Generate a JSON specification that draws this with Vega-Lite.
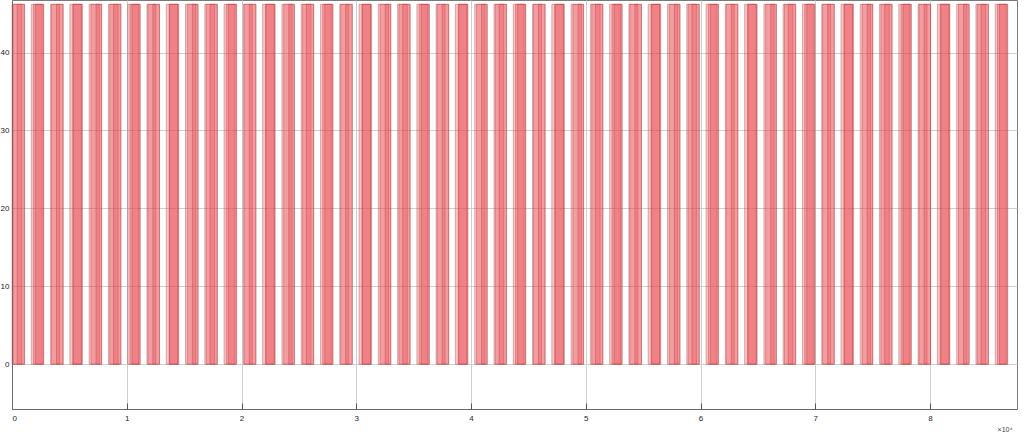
{
  "$schema": "https://vega.github.io/schema/vega-lite/v6.json",
  "width": 1005,
  "height": 409,
  "autosize": {"type": "none"},
  "padding": {"left": 12, "top": 0, "right": 7, "bottom": 26},
  "background": "white",
  "config": {
    "view": {"stroke": "#7a7a7a", "strokeWidth": 1},
    "axis": {"labelFont": "Liberation Sans", "titleFont": "Liberation Sans", "gridColor": "#cfcfcf", "gridWidth": 1, "domainColor": "#6a6a6a", "labelColor": "#262626", "labelFontSize": 8, "tickColor": "#555555", "tickWidth": 1}
  },
  "data": {"values": [
    {"start":0,"end":1100,"v":46.2},{"start":120,"end":850,"v":46.2},{"start":450,"end":1080,"v":46.2},
    {"start":1680,"end":2780,"v":46.2},{"start":1880,"end":2630,"v":46.2},{"start":2060,"end":2740,"v":46.2},
    {"start":3360,"end":4460,"v":46.2},{"start":3440,"end":4140,"v":46.2},{"start":3880,"end":4450,"v":46.2},
    {"start":5040,"end":6140,"v":46.2},{"start":5290,"end":6040,"v":46.2},{"start":5340,"end":6080,"v":46.2},
    {"start":6720,"end":7820,"v":46.2},{"start":6880,"end":7620,"v":46.2},{"start":7320,"end":7800,"v":46.2},
    {"start":8400,"end":9500,"v":46.2},{"start":8520,"end":9250,"v":46.2},{"start":8850,"end":9480,"v":46.2},
    {"start":10080,"end":11180,"v":46.2},{"start":10280,"end":11030,"v":46.2},{"start":10460,"end":11140,"v":46.2},
    {"start":11760,"end":12860,"v":46.2},{"start":11840,"end":12540,"v":46.2},{"start":12280,"end":12850,"v":46.2},
    {"start":13440,"end":14540,"v":46.2},{"start":13690,"end":14440,"v":46.2},{"start":13740,"end":14480,"v":46.2},
    {"start":15120,"end":16220,"v":46.2},{"start":15280,"end":16020,"v":46.2},{"start":15720,"end":16200,"v":46.2},
    {"start":16800,"end":17900,"v":46.2},{"start":16920,"end":17650,"v":46.2},{"start":17250,"end":17880,"v":46.2},
    {"start":18480,"end":19580,"v":46.2},{"start":18680,"end":19430,"v":46.2},{"start":18860,"end":19540,"v":46.2},
    {"start":20160,"end":21260,"v":46.2},{"start":20240,"end":20940,"v":46.2},{"start":20680,"end":21250,"v":46.2},
    {"start":21840,"end":22940,"v":46.2},{"start":22090,"end":22840,"v":46.2},{"start":22140,"end":22880,"v":46.2},
    {"start":23520,"end":24620,"v":46.2},{"start":23680,"end":24420,"v":46.2},{"start":24120,"end":24600,"v":46.2},
    {"start":25200,"end":26300,"v":46.2},{"start":25320,"end":26050,"v":46.2},{"start":25650,"end":26280,"v":46.2},
    {"start":26880,"end":27980,"v":46.2},{"start":27080,"end":27830,"v":46.2},{"start":27260,"end":27940,"v":46.2},
    {"start":28560,"end":29660,"v":46.2},{"start":28640,"end":29340,"v":46.2},{"start":29080,"end":29650,"v":46.2},
    {"start":30240,"end":31340,"v":46.2},{"start":30490,"end":31240,"v":46.2},{"start":30540,"end":31280,"v":46.2},
    {"start":31920,"end":33020,"v":46.2},{"start":32080,"end":32820,"v":46.2},{"start":32520,"end":33000,"v":46.2},
    {"start":33600,"end":34700,"v":46.2},{"start":33720,"end":34450,"v":46.2},{"start":34050,"end":34680,"v":46.2},
    {"start":35280,"end":36380,"v":46.2},{"start":35480,"end":36230,"v":46.2},{"start":35660,"end":36340,"v":46.2},
    {"start":36960,"end":38060,"v":46.2},{"start":37040,"end":37740,"v":46.2},{"start":37480,"end":38050,"v":46.2},
    {"start":38640,"end":39740,"v":46.2},{"start":38890,"end":39640,"v":46.2},{"start":38940,"end":39680,"v":46.2},
    {"start":40320,"end":41420,"v":46.2},{"start":40480,"end":41220,"v":46.2},{"start":40920,"end":41400,"v":46.2},
    {"start":42000,"end":43100,"v":46.2},{"start":42120,"end":42850,"v":46.2},{"start":42450,"end":43080,"v":46.2},
    {"start":43680,"end":44780,"v":46.2},{"start":43880,"end":44630,"v":46.2},{"start":44060,"end":44740,"v":46.2},
    {"start":45360,"end":46460,"v":46.2},{"start":45440,"end":46140,"v":46.2},{"start":45880,"end":46450,"v":46.2},
    {"start":47040,"end":48140,"v":46.2},{"start":47290,"end":48040,"v":46.2},{"start":47340,"end":48080,"v":46.2},
    {"start":48720,"end":49820,"v":46.2},{"start":48880,"end":49620,"v":46.2},{"start":49320,"end":49800,"v":46.2},
    {"start":50400,"end":51500,"v":46.2},{"start":50520,"end":51250,"v":46.2},{"start":50850,"end":51480,"v":46.2},
    {"start":52080,"end":53180,"v":46.2},{"start":52280,"end":53030,"v":46.2},{"start":52460,"end":53140,"v":46.2},
    {"start":53760,"end":54860,"v":46.2},{"start":53840,"end":54540,"v":46.2},{"start":54280,"end":54850,"v":46.2},
    {"start":55440,"end":56540,"v":46.2},{"start":55690,"end":56440,"v":46.2},{"start":55740,"end":56480,"v":46.2},
    {"start":57120,"end":58220,"v":46.2},{"start":57280,"end":58020,"v":46.2},{"start":57720,"end":58200,"v":46.2},
    {"start":58800,"end":59900,"v":46.2},{"start":58920,"end":59650,"v":46.2},{"start":59250,"end":59880,"v":46.2},
    {"start":60480,"end":61580,"v":46.2},{"start":60680,"end":61430,"v":46.2},{"start":60860,"end":61540,"v":46.2},
    {"start":62160,"end":63260,"v":46.2},{"start":62240,"end":62940,"v":46.2},{"start":62680,"end":63250,"v":46.2},
    {"start":63840,"end":64940,"v":46.2},{"start":64090,"end":64840,"v":46.2},{"start":64140,"end":64880,"v":46.2},
    {"start":65520,"end":66620,"v":46.2},{"start":65680,"end":66420,"v":46.2},{"start":66120,"end":66600,"v":46.2},
    {"start":67200,"end":68300,"v":46.2},{"start":67320,"end":68050,"v":46.2},{"start":67650,"end":68280,"v":46.2},
    {"start":68880,"end":69980,"v":46.2},{"start":69080,"end":69830,"v":46.2},{"start":69260,"end":69940,"v":46.2},
    {"start":70560,"end":71660,"v":46.2},{"start":70640,"end":71340,"v":46.2},{"start":71080,"end":71650,"v":46.2},
    {"start":72240,"end":73340,"v":46.2},{"start":72490,"end":73240,"v":46.2},{"start":72540,"end":73280,"v":46.2},
    {"start":73920,"end":75020,"v":46.2},{"start":74080,"end":74820,"v":46.2},{"start":74520,"end":75000,"v":46.2},
    {"start":75600,"end":76700,"v":46.2},{"start":75720,"end":76450,"v":46.2},{"start":76050,"end":76680,"v":46.2},
    {"start":77280,"end":78380,"v":46.2},{"start":77480,"end":78230,"v":46.2},{"start":77660,"end":78340,"v":46.2},
    {"start":78960,"end":80060,"v":46.2},{"start":79040,"end":79740,"v":46.2},{"start":79480,"end":80050,"v":46.2},
    {"start":80640,"end":81740,"v":46.2},{"start":80890,"end":81640,"v":46.2},{"start":80940,"end":81680,"v":46.2},
    {"start":82320,"end":83420,"v":46.2},{"start":82480,"end":83220,"v":46.2},{"start":82920,"end":83400,"v":46.2},
    {"start":84000,"end":85100,"v":46.2},{"start":84120,"end":84850,"v":46.2},{"start":84450,"end":85080,"v":46.2},
    {"start":85680,"end":86780,"v":46.2},{"start":85880,"end":86630,"v":46.2},{"start":86060,"end":86740,"v":46.2}
  ]},
  "mark": {"type": "rect", "fill": "#ea4a50", "fillOpacity": 0.32, "stroke": "#a82a2a", "strokeOpacity": 0.55, "strokeWidth": 0.6},
  "encoding": {
    "x": {"field": "start", "type": "quantitative",
      "scale": {"domain": [0, 87580], "nice": false, "zero": false},
      "axis": {"values": [0,10000,20000,30000,40000,50000,60000,70000,80000], "labelExpr": "datum.value / 10000", "ticks": true, "tickSize": -6, "labelPadding": 11, "grid": true,
        "title": "×10⁴", "titleFontSize": 7, "titleFontWeight": "normal", "titleColor": "#444444", "titleAnchor": "end", "titleAlign": "right", "titleBaseline": "middle", "titleX": 1000, "titleY": 20}},
    "x2": {"field": "end"},
    "y": {"field": "v", "type": "quantitative",
      "scale": {"domain": [-5.75, 46.75], "nice": false, "zero": false},
      "axis": {"values": [0,10,20,30,40], "ticks": false, "labelPadding": 3, "grid": true, "title": null}},
    "y2": {"datum": 0}
  }
}
